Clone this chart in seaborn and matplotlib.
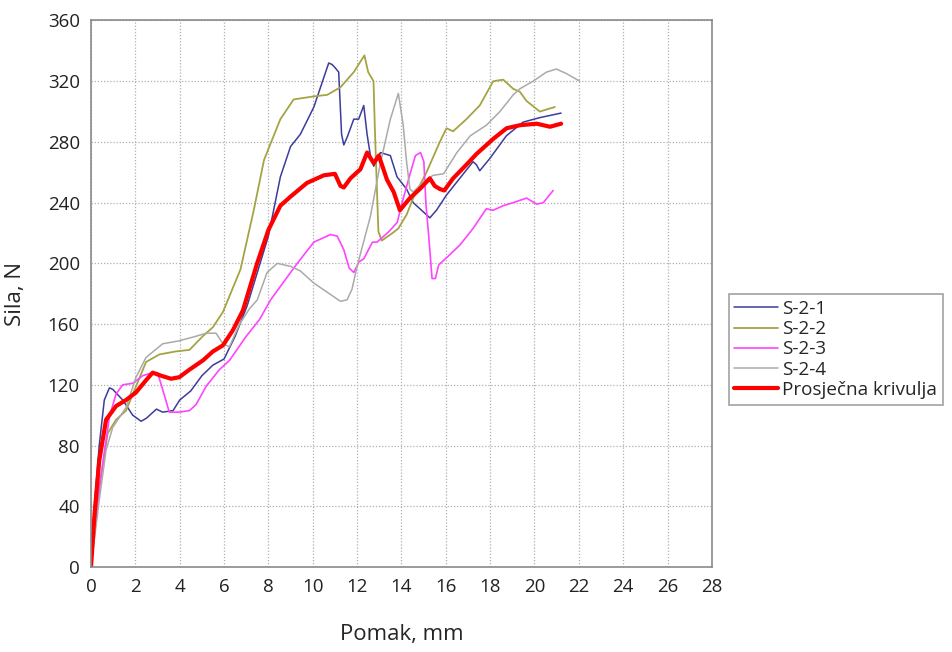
import numpy as np
import pandas as pd
import matplotlib
matplotlib.use("Agg")
import matplotlib.pyplot as plt
import seaborn as sns

# S-2-1
s1_x = [0, 0.15, 0.37, 0.6, 0.83, 0.98, 1.43, 1.88, 2.26, 2.5, 2.95, 3.23, 3.7, 4.0, 4.5, 5.0, 5.5, 6.0, 6.5, 7.04,
        8.0, 8.54, 9.0, 9.44, 10.05, 10.72, 10.87, 11.0, 11.17, 11.3, 11.4, 11.55, 11.85, 12.07, 12.3, 12.45, 12.6,
        12.75, 13.05, 13.5, 13.8, 14.23, 14.53, 14.83, 15.28, 15.58, 16.03, 16.63, 17.23, 17.38, 17.53, 17.98,
        18.73, 19.48, 20.24, 21.2]
s1_y = [0, 40, 80, 110, 118, 117, 110, 100, 96, 98, 104, 102, 103, 110, 116, 126, 133, 137, 152, 172,
        218, 257, 277, 285, 303, 332, 331, 329, 326, 285, 278, 283, 295, 295, 304, 285, 271,
        264, 273, 271, 257, 249, 240, 236, 230, 235, 245, 256, 267, 265, 261, 269,
        284, 293, 296, 299]

# S-2-2
s2_x = [0, 0.3, 0.75, 1.13, 1.58, 2.03, 2.48, 3.08, 3.83, 4.44, 5.04, 5.5, 5.95, 6.74, 7.34, 7.8, 8.1, 8.54,
        9.14, 10.05, 10.65, 11.25, 11.85, 12.33, 12.5, 12.74, 12.8, 12.96, 13.11, 13.6, 13.86, 14.23, 14.53,
        15.13, 15.73, 16.03, 16.33, 16.93, 17.53, 18.14, 18.59, 19.04, 19.34, 19.64, 20.24, 20.92]
s2_y = [0, 44, 88, 97, 103, 119, 135, 140, 142, 143, 152, 158, 168, 196, 235, 268, 279, 295,
        308, 310, 311, 316, 326, 337, 326, 320, 289, 221, 215, 220, 223, 232, 243,
        260, 280, 289, 287, 295, 304, 320, 321, 315, 313, 307, 300, 303]

# S-2-3
s3_x = [0, 0.4, 0.83, 1.13, 1.43, 1.88, 2.33, 2.78, 3.0, 3.23, 3.53, 3.98, 4.44, 4.74, 5.19, 5.79, 6.24, 7.0,
        7.6, 8.1, 9.3, 10.05, 10.8, 11.1, 11.4, 11.64, 11.85, 12.09, 12.3, 12.69, 12.9, 13.44, 13.81, 14.03,
        14.41, 14.63, 14.86, 15.01, 15.11, 15.23, 15.38, 15.53, 15.68, 16.13, 16.63, 17.23, 17.83, 18.14,
        18.59, 19.04, 19.64, 20.1, 20.4, 20.84]
s3_y = [0, 55, 99, 114, 120, 121, 126, 128, 128, 117, 102, 102, 103, 107, 119, 130, 136, 152,
        163, 176, 200, 214, 219, 218, 209, 197, 194, 201, 203, 214, 214, 221, 227, 240,
        260, 271, 273, 267, 238, 218, 190, 190, 199, 205, 212, 223, 236, 235,
        238, 240, 243, 239, 240, 248]

# S-2-4
s4_x = [0, 0.37, 0.68, 0.98, 1.58, 2.03, 2.48, 3.23, 3.98, 4.74, 5.19, 5.64, 5.95, 6.24, 6.7, 7.14, 7.5, 7.94,
        8.4, 9.0, 9.44, 10.05, 10.65, 11.25, 11.55, 11.77, 12.0, 12.6, 13.05, 13.5, 13.86, 14.08, 14.23,
        14.38, 14.53, 15.0, 15.43, 15.9, 16.5, 17.1, 17.83, 18.44, 19.04, 19.34, 19.94, 20.54, 20.99, 21.44,
        22.04]
s4_y = [0, 44, 77, 92, 105, 125, 138, 147, 149, 152, 154, 154, 147, 145, 160, 170, 176, 194,
        200, 198, 195, 187, 181, 175, 176, 183, 198, 231, 266, 295, 312, 291, 267,
        249, 247, 254, 258, 259, 273, 284, 291, 300, 311, 315, 320, 326, 328, 325,
        320]

# Prosječna krivulja
avg_x = [0, 0.15, 0.37, 0.68, 1.13, 1.58, 2.03, 2.48, 2.78, 3.16, 3.61, 3.98, 4.44, 5.04, 5.5, 5.95, 6.4, 6.85,
         7.49, 8.0, 8.54, 9.0, 9.74, 10.5, 11.0, 11.25, 11.4, 11.7, 12.15, 12.45, 12.75, 12.98, 13.35, 13.65,
         13.93, 14.38, 14.83, 15.28, 15.5, 15.73, 15.93, 16.33, 16.93, 17.38, 18.14, 18.74, 19.34, 20.1, 20.7,
         21.2]
avg_y = [0, 33, 70, 97, 106, 110, 115, 123, 128, 126, 124, 125, 130, 136, 142, 146, 156, 169,
         200, 222, 238, 244, 253, 258, 259, 251, 250, 256, 262, 273, 266, 271, 255, 247,
         235, 243, 249, 256, 251, 249, 248, 256, 265, 272, 282, 289, 291, 292, 290,
         292]

names = ["S-2-1", "S-2-2", "S-2-3", "S-2-4", "Prosječna krivulja"]
xs = [s1_x, s2_x, s3_x, s4_x, avg_x]
ys = [s1_y, s2_y, s3_y, s4_y, avg_y]

frames = []
for n, x, y in zip(names, xs, ys):
    frames.append(pd.DataFrame({"Pomak": x, "Sila": y, "Uzorak": n}))
df = pd.concat(frames, ignore_index=True)

sns.set_theme(style="white")
plt.rcParams['font.family'] = ['Open Sans', 'DejaVu Sans']

palette = {"S-2-1": "#3c3c9c", "S-2-2": "#a4a444", "S-2-3": "#ff44ff",
           "S-2-4": "#aaaaaa", "Prosječna krivulja": "#ff0000"}
sizes = {"S-2-1": 1.1, "S-2-2": 1.3, "S-2-3": 1.2, "S-2-4": 1.1, "Prosječna krivulja": 3.0}

fig = plt.figure(figsize=(9.53, 6.52), dpi=100)
ax = fig.add_axes([0.0955, 0.1304, 0.6515, 0.8382])

sns.lineplot(data=df, x="Pomak", y="Sila", hue="Uzorak", size="Uzorak", sizes=sizes,
             palette=palette, sort=False, estimator=None, units="Uzorak", ax=ax, legend=True)

ax.set_xlim(0, 28)
ax.set_ylim(0, 360)
ax.set_xticks(np.arange(0, 29, 2))
ax.set_yticks(np.arange(0, 361, 40))
ax.grid(True, color="#b0b0b0", linestyle=(0, (1, 1.5)), linewidth=0.9)
for s in ax.spines.values():
    s.set_color("#8a8a8a")
    s.set_linewidth(1.2)
ax.tick_params(axis="both", length=0, labelsize=13.5, pad=8, colors="#222222")
ax.set_xlabel("Pomak, mm", fontsize=16, labelpad=20)
ax.set_ylabel("Sila, N", fontsize=16, labelpad=16)

h, l = ax.get_legend_handles_labels()
leg = ax.legend(h, l, loc="center left", bbox_to_anchor=(1.027, 0.398), fontsize=13.6,
                frameon=True, fancybox=False, borderpad=0.3, labelspacing=0.12,
                handlelength=2.3, handletextpad=0.25, borderaxespad=0)
leg.get_frame().set_edgecolor("#8a8a8a")
leg.get_frame().set_linewidth(1.2)

fig.savefig("out.png", dpi=100)
